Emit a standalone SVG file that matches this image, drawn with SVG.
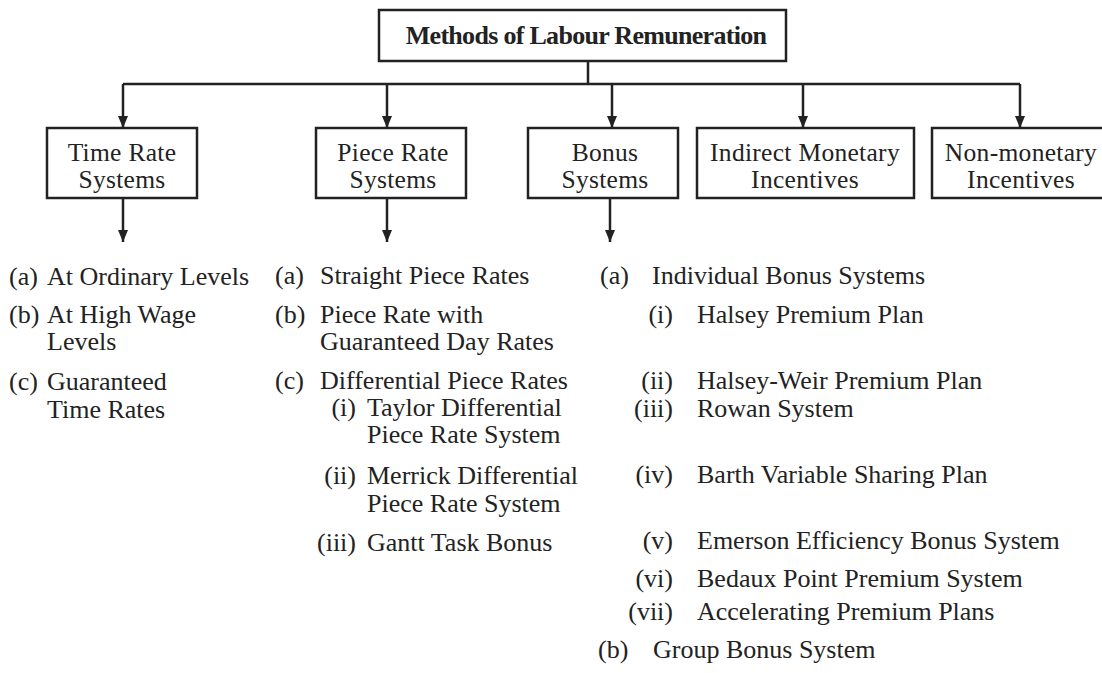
<svg xmlns="http://www.w3.org/2000/svg" width="1102" height="673" viewBox="0 0 1102 673">
<style>
.box{fill:#fff;stroke:#222;stroke-width:2.5}
.t{font-family:"Liberation Serif","Times New Roman",serif;font-size:26px;fill:#222}
.b{font-size:25.5px;text-anchor:middle;letter-spacing:0.3px}
.e{text-anchor:end}
.title{font-family:"Liberation Serif","Times New Roman",serif;font-size:26px;font-weight:bold;fill:#222;text-anchor:middle;letter-spacing:-0.7px}
.ln{fill:none;stroke:#222;stroke-width:2.5}
</style>
<defs>
<marker id="ah" viewBox="0 0 12 10" refX="12" refY="5" markerWidth="12" markerHeight="10" orient="auto" markerUnits="userSpaceOnUse">
<path d="M0,0 L12,5 L0,10 z" fill="#222"/>
</marker>
</defs>
<rect width="1102" height="673" fill="#fff"/>
<g id="connectors">
<path class="ln" d="M588,61 V84 M123,84 H1020"/>
<path class="ln" d="M123,84 V128" marker-end="url(#ah)"/>
<path class="ln" d="M387,84 V128" marker-end="url(#ah)"/>
<path class="ln" d="M612,84 V128" marker-end="url(#ah)"/>
<path class="ln" d="M803,84 V128" marker-end="url(#ah)"/>
<path class="ln" d="M1020,84 V128" marker-end="url(#ah)"/>
<path class="ln" d="M123,198 V242" marker-end="url(#ah)"/>
<path class="ln" d="M387,198 V242" marker-end="url(#ah)"/>
<path class="ln" d="M610,198 V242" marker-end="url(#ah)"/>
</g>
<g id="root">
<rect class="box" x="379" y="10" width="407" height="51"/>
<text class="title" x="586" y="44">Methods of Labour Remuneration</text>
</g>
<g id="time-rate">
<rect class="box" x="47" y="128" width="150" height="70"/>
<text class="t b" x="122" y="161">Time Rate</text>
<text class="t b" x="122" y="188">Systems</text>
</g>
<g id="piece-rate">
<rect class="box" x="316" y="128" width="150" height="70"/>
<text class="t b" x="393" y="161">Piece Rate</text>
<text class="t b" x="393" y="188">Systems</text>
</g>
<g id="bonus">
<rect class="box" x="528" y="128" width="150" height="70"/>
<text class="t b" x="605" y="161">Bonus</text>
<text class="t b" x="605" y="188">Systems</text>
</g>
<g id="indirect">
<rect class="box" x="697" y="128" width="217" height="70"/>
<text class="t b" x="805" y="161">Indirect Monetary</text>
<text class="t b" x="805" y="188">Incentives</text>
</g>
<g id="non-monetary">
<rect class="box" x="932" y="128" width="180" height="70"/>
<text class="t b" x="1021" y="161">Non-monetary</text>
<text class="t b" x="1021" y="188">Incentives</text>
</g>
<g id="time-list">
<text class="t" x="9" y="285">(a)</text><text class="t" x="47" y="285">At Ordinary Levels</text>
<text class="t" x="9" y="323">(b)</text><text class="t" x="47" y="323">At High Wage</text>
<text class="t" x="47" y="350">Levels</text>
<text class="t" x="9" y="390">(c)</text><text class="t" x="47" y="390">Guaranteed</text>
<text class="t" x="47" y="418">Time Rates</text>
</g>
<g id="piece-list">
<text class="t" x="275" y="284">(a)</text><text class="t" x="320" y="284">Straight Piece Rates</text>
<text class="t" x="275" y="323">(b)</text><text class="t" x="320" y="323">Piece Rate with</text>
<text class="t" x="320" y="350">Guaranteed Day Rates</text>
<text class="t" x="275" y="389">(c)</text><text class="t" x="320" y="389">Differential Piece Rates</text>
<text class="t e" x="356" y="416">(i)</text><text class="t" x="367" y="416">Taylor Differential</text>
<text class="t" x="367" y="443">Piece Rate System</text>
<text class="t e" x="356" y="484">(ii)</text><text class="t" x="367" y="484">Merrick Differential</text>
<text class="t" x="367" y="512">Piece Rate System</text>
<text class="t e" x="356" y="551">(iii)</text><text class="t" x="367" y="551">Gantt Task Bonus</text>
</g>
<g id="bonus-list">
<text class="t" x="600" y="284">(a)</text><text class="t" x="652" y="284">Individual Bonus Systems</text>
<text class="t e" x="673" y="323">(i)</text><text class="t" x="697" y="323">Halsey Premium Plan</text>
<text class="t e" x="673" y="389">(ii)</text><text class="t" x="697" y="389">Halsey-Weir Premium Plan</text>
<text class="t e" x="673" y="417">(iii)</text><text class="t" x="697" y="417">Rowan System</text>
<text class="t e" x="673" y="483">(iv)</text><text class="t" x="697" y="483">Barth Variable Sharing Plan</text>
<text class="t e" x="673" y="549">(v)</text><text class="t" x="697" y="549">Emerson Efficiency Bonus System</text>
<text class="t e" x="673" y="587">(vi)</text><text class="t" x="697" y="587">Bedaux Point Premium System</text>
<text class="t e" x="673" y="620">(vii)</text><text class="t" x="697" y="620">Accelerating Premium Plans</text>
<text class="t" x="598" y="658">(b)</text><text class="t" x="653" y="658">Group Bonus System</text>
</g>
</svg>
